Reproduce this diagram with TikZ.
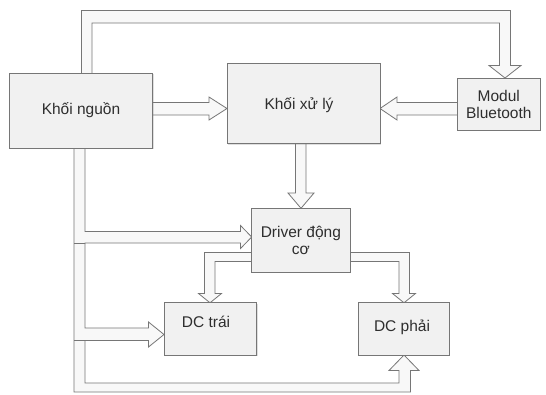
\documentclass[tikz,border=0pt]{standalone}
\usepackage{fontspec}
\setmainfont{Liberation Sans}
\newfontfamily\headfont{Liberation Serif}
\usetikzlibrary{shadows}
\definecolor{lc}{HTML}{767676}
\definecolor{bf}{HTML}{F1F1F1}
\definecolor{af}{HTML}{F8F8F8}
\definecolor{tc}{HTML}{2E2E2E}
\tikzset{
  blk/.style={draw=lc, line width=0.9pt, fill=bf, inner sep=2pt, align=center,
     text=tc, font=\fontsize{15.5}{17}\selectfont,
     drop shadow={shadow xshift=1.2pt, shadow yshift=-1.2pt, opacity=0.25}},
  lbl/.style={text=tc, font=\fontsize{15.5}{17}\selectfont},
  barrow/.style={draw=lc, line width=0.8pt, fill=af, line join=miter},
  tick/.style={draw=lc, line width=0.8pt}
}
\begin{document}
\begin{tikzpicture}[x=1pt,y=-1pt]
\useasboundingbox (0,0) rectangle (546,394);
\fill[white] (0,0) rectangle (546,394);
% heading, cut by the top edge of the picture
\begin{scope}
\clip (0,0) rectangle (546,394);
\node[anchor=base west, inner sep=0pt, font=\headfont\bfseries\fontsize{33}{33}\selectfont] (head) at (22,-9) {2.1.1 Sơ đồ phần cứng};
\end{scope}

% block arrows
% power -> bluetooth (top loop)
\filldraw[barrow] (81.5,73) -- (81.5,10.5) -- (510.5,10.5) -- (510.5,65.5) -- (521,65.5) -- (505,78)
   -- (489,65.5) -- (499.5,65.5) -- (499.5,23) -- (92,23) -- (92,73);
% power -> processor
\filldraw[barrow] (152.5,102.5) -- (209,102.5) -- (209,97) -- (227,108.5) -- (209,120) -- (209,115) -- (152.5,115);
% bluetooth -> processor
\filldraw[barrow] (457.5,102.5) -- (397,102.5) -- (397,97) -- (380,108.5) -- (397,120) -- (397,115) -- (457.5,115);
% processor -> driver
\filldraw[barrow] (295.5,143.6) -- (295.5,193) -- (288,193) -- (301,208.3) -- (314,193) -- (306,193) -- (306,143.6);
% power bus
\filldraw[barrow] (74,148) -- (74,392) -- (410.5,392) -- (410.5,370.5) -- (419,370.5) -- (404,355)
   -- (389,370.5) -- (399,370.5) -- (399,383) -- (85,383) -- (85,340.5) -- (148.5,340.5) -- (148.5,347)
   -- (164,334.5) -- (148.5,322) -- (148.5,328) -- (85,328) -- (85,243) -- (240.5,243) -- (240.5,248.5)
   -- (251.7,237) -- (240.5,225.5) -- (240.5,231.5) -- (85,231.5) -- (85,148);
\draw[tick] (74,243) -- (85,243);
\draw[tick] (74,340.5) -- (85,340.5);
% driver -> DC left
\filldraw[barrow] (251.7,252.5) -- (204.5,252.5) -- (204.5,293.5) -- (198.5,293.5) -- (210,302.8) -- (221.5,293.5)
   -- (215,293.5) -- (215,261.5) -- (251.7,261.5);
% driver -> DC right
\filldraw[barrow] (350,252.5) -- (409.5,252.5) -- (409.5,293.5) -- (415.5,293.5) -- (404,302.8) -- (392.5,293.5)
   -- (399,293.5) -- (399,261.5) -- (350,261.5);

% blocks
\node[blk, minimum width=143pt, minimum height=75pt] (ng) at (81,110.5) {Khối nguồn};
\node[blk, minimum width=153pt, minimum height=80.6pt] (xl) at (303.5,103.3) {};
\node[lbl] (xlt) at (299,105.5) {Khối xử lý};
\node[blk, minimum width=82.5pt, minimum height=52pt] (bt) at (498.75,104) {Modul\\Bluetooth};
\node[blk, minimum width=98.3pt, minimum height=63.8pt] (dr) at (300.85,240.2) {Driver động\\cơ};
\node[blk, minimum width=92.5pt, minimum height=52.2pt] (dt) at (210.25,328.9) {};
\node[lbl] (dtt) at (206,321.5) {DC trái};
\node[blk, minimum width=90.9pt, minimum height=52.2pt] (dp) at (403.75,328.9) {};
\node[lbl] (dpt) at (402,327) {DC phải};
\end{tikzpicture}
\end{document}
